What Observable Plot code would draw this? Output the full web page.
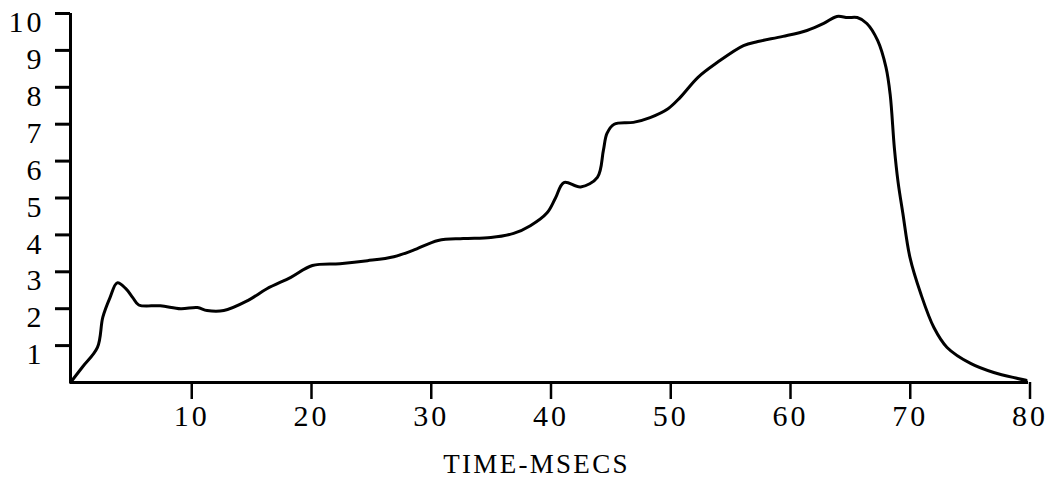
<!DOCTYPE html>
<html>
<head>
<meta charset="utf-8">
<script src="https://cdn.jsdelivr.net/npm/d3@7"></script>
<script src="https://cdn.jsdelivr.net/npm/@observablehq/plot@0.6"></script>
<style>
  html, body { margin: 0; padding: 0; background: #fff; }
</style>
</head>
<body>
<div id="chart"></div>
<script>
const time = [0, 1, 2.25, 2.7, 3.3, 3.9, 4.6, 5.2, 5.7, 7.5, 9.2, 10.6, 11.4, 12.8, 14.8, 16.4, 18.4, 20.2, 22.5, 24.8, 27, 28.6, 30.7, 32.8, 35.1, 37, 38.4, 39.8, 40.5, 41.2, 42.6, 44, 44.5, 44.8, 45.4, 47, 48.4, 49.9, 50.9, 52.4, 54, 56.2, 57.4, 59.5, 61.5, 62.9, 64, 64.9, 65.7, 66.5, 67.4, 68.1, 68.45, 68.8, 69.1, 69.5, 70.1, 71, 72.1, 73.2, 75.2, 77.1, 79.1, 79.8];
const value = [0, 0.42, 0.95, 1.77, 2.3, 2.7, 2.55, 2.3, 2.1, 2.08, 2.0, 2.03, 1.95, 1.95, 2.22, 2.54, 2.85, 3.17, 3.22, 3.3, 3.41, 3.58, 3.85, 3.9, 3.93, 4.04, 4.25, 4.6, 5.0, 5.42, 5.3, 5.56, 6.29, 6.75, 7.0, 7.05, 7.18, 7.42, 7.72, 8.27, 8.67, 9.13, 9.24, 9.38, 9.54, 9.73, 9.92, 9.89, 9.89, 9.73, 9.27, 8.54, 7.8, 6.35, 5.45, 4.6, 3.39, 2.41, 1.49, 0.95, 0.51, 0.27, 0.11, 0.06];
const xTicks = [10, 20, 30, 40, 50, 60, 70, 80];
const yTicks = [1, 2, 3, 4, 5, 6, 7, 8, 9, 10];
const xLabel = "TIME-MSECS";

const data = time.map((t, i) => ({t, v: value[i]}));

const chart = Plot.plot({
  width: 1059,
  height: 488,
  marginLeft: 70,
  marginRight: 31,
  marginTop: 13,
  marginBottom: 106,
  style: {fontFamily: "'Liberation Serif', 'DejaVu Serif', serif", fontSize: "30px", color: "#000", background: "#fff", letterSpacing: "3px"},
  x: {domain: [0, 80]},
  y: {domain: [0, 10]},
  marks: [
    // y tick marks
    Plot.axisY({ticks: yTicks, tickSize: 15, strokeWidth: 3, text: null, label: null}),
    // y tick labels, set slightly below their ticks as in the reference
    Plot.axisY({ticks: yTicks, tickSize: 0, tickPadding: 26, fontSize: 30, dy: 9, label: null}),
    Plot.axisX({ticks: xTicks, tickSize: 17, tickPadding: 5, strokeWidth: 2.5, fontSize: 30, dx: 1.5, label: null}),
    Plot.axisX({ticks: [], label: xLabel, labelAnchor: "center", labelArrow: "none", labelOffset: 90, fontSize: 27}),
    Plot.ruleX([0], {stroke: "#000", strokeWidth: 3}),
    Plot.ruleY([0], {stroke: "#000", strokeWidth: 3}),
    Plot.line(data, {x: "t", y: "v", stroke: "#000", strokeWidth: 3, curve: "catmull-rom"})
  ]
});
const lab = d3.select(chart).selectAll("[aria-label='x-axis label']");
lab.style("letter-spacing", "2.3px");
lab.selectAll("text").attr("dx", -13);
document.getElementById("chart").appendChild(chart);
</script>
</body>
</html>
